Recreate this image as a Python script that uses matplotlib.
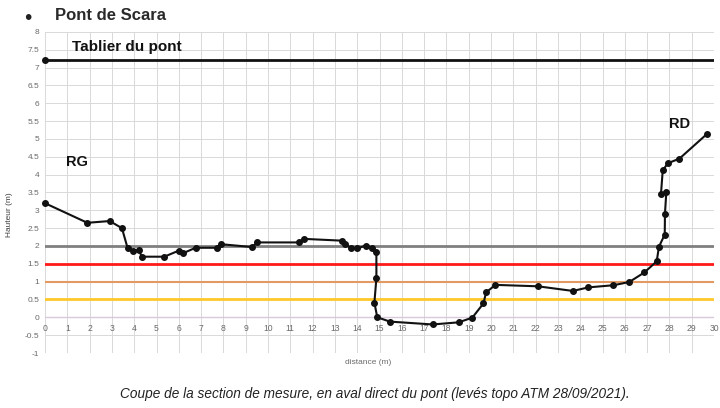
import matplotlib
matplotlib.use("Agg")
import matplotlib.pyplot as plt
import numpy as np

plt.rcParams['font.family'] = ['Liberation Sans', 'DejaVu Sans']

# Profile data (distance m, height m)
dist = [0, 1.9, 2.9, 3.45, 3.7, 3.95, 4.2, 4.35, 5.35, 6.0, 6.2, 6.75, 7.7, 7.9,
        9.3, 9.5, 11.4, 11.6, 13.3, 13.47, 13.7, 14.0, 14.38, 14.65, 14.86, 14.86,
        14.77, 14.9, 15.47, 17.39, 18.55, 19.16, 19.66, 19.78, 20.2, 22.1, 23.67,
        24.37, 25.49, 26.2, 26.88, 27.43, 27.53, 27.79, 27.8, 27.86, 27.62, 27.7,
        27.93, 28.45, 29.7]
height = [3.2, 2.65, 2.7, 2.5, 1.95, 1.86, 1.88, 1.7, 1.7, 1.87, 1.8, 1.95, 1.95, 2.05,
          1.97, 2.1, 2.1, 2.2, 2.15, 2.05, 1.95, 1.93, 2.01, 1.93, 1.82, 1.09,
          0.41, 0.0, -0.12, -0.2, -0.14, -0.01, 0.39, 0.7, 0.91, 0.87, 0.74,
          0.84, 0.9, 0.99, 1.26, 1.57, 1.98, 2.32, 2.91, 3.5, 3.45, 4.12,
          4.32, 4.45, 5.15]

deck_level = 7.21
ref_levels = [2.0, 1.5, 1.0, 0.5]
ref_colors = ['#808080', '#ff1a1a', '#e39a62', '#ffc82a']
ref_widths = [2.0, 2.0, 1.5, 2.0]

x_ticks = list(range(0, 31))
y_ticks = list(np.arange(-1, 8.01, 0.5))
y_ticklabels = [('%g' % v) for v in y_ticks]

fig = plt.figure(figsize=(7.2, 4.08), dpi=100)
ax = fig.add_axes([0.0625, 0.1348, 0.9292, 0.7868])
ax.set_xlim(0, 30)
ax.set_ylim(-1, 8)

# grid
for xv in x_ticks:
    ax.axvline(xv, color='#d9d9d9', lw=0.7, zorder=0)
for yv in y_ticks:
    ax.axhline(yv, color='#d9d9d9', lw=0.7, zorder=0)
ax.axhline(0, color='#d8c8dc', lw=1.0, zorder=0.5)

for lv, c, w in zip(ref_levels, ref_colors, ref_widths):
    ax.axhline(lv, color=c, lw=w, zorder=1)

ax.plot([0, 30], [deck_level, deck_level], color='#111111', lw=2, zorder=2)
ax.plot([0], [deck_level], 'o', color='#111111', ms=4, zorder=3, clip_on=False)

ax.plot(dist, height, '-o', color='#111111', lw=1.5, ms=4, zorder=3, clip_on=False)

for s in ax.spines.values():
    s.set_visible(False)
ax.set_xticks([])
ax.set_yticks(y_ticks)
ax.set_yticklabels(y_ticklabels, fontsize=6, color='#6a6a6a')
ax.tick_params(axis='y', length=0, pad=4)

for xv in x_ticks:
    ax.text(xv, -0.3, str(xv), fontsize=6.2, color='#6a6a6a', ha='center', va='center')

ax.text(1.2, 7.57, 'Tablier du pont', fontsize=11, fontweight='bold', color='#111111',
        va='center', ha='left')
ax.text(0.95, 4.35, 'RG', fontsize=10.5, fontweight='bold', color='#111111', va='center')
ax.text(28.0, 5.42, 'RD', fontsize=10.5, fontweight='bold', color='#111111', va='center')

fig.text(10 / 720, 1 - 215 / 408, 'Hauteur (m)', rotation=90, fontsize=6, color='#404040',
         ha='center', va='center')
fig.text(368 / 720, 1 - 362 / 408, 'distance (m)', fontsize=6, color='#6a6a6a',
         ha='center', va='center')
fig.text(28 / 720, 1 - 19 / 408, '\u2022', fontsize=15, color='#222222', ha='center', va='center')
fig.text(55 / 720, 1 - 16 / 408, 'Pont de Scara', fontsize=12, fontweight='bold',
         color='#2a2a2a', ha='left', va='center')
fig.text(375 / 720, 1 - 394 / 408,
         'Coupe de la section de mesure, en aval direct du pont (lev\u00e9s topo ATM 28/09/2021).',
         fontsize=9.8, style='italic', color='#222222', ha='center', va='center')

fig.savefig('out.png', dpi=100)
